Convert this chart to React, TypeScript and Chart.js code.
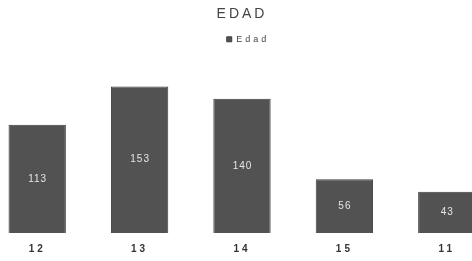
import React, { useEffect, useRef } from "react";
import { Chart, registerables } from "chart.js";

Chart.register(...registerables);

const categories = ["12", "13", "14", "15", "11"];
const edadValues = [113, 153, 140, 56, 43];
const titleText = "EDAD";
const seriesLabel = "Edad";

const spacing = {
  id: "spacing",
  beforeInit(chart: any) {
    chart.ctx.letterSpacing = "3px";
  },
  beforeDraw(chart: any) {
    chart.ctx.letterSpacing = "3px";
  },
};

const barLabels = {
  id: "barLabels",
  afterDatasetsDraw(chart: any) {
    const ctx = chart.ctx;
    const meta = chart.getDatasetMeta(0);
    ctx.save();
    ctx.letterSpacing = "1px";
    ctx.fillStyle = "#e6e6e6";
    ctx.font = "10px 'Liberation Sans', Arial, sans-serif";
    ctx.textAlign = "center";
    ctx.textBaseline = "middle";
    meta.data.forEach((bar: any, i: number) => {
      const v = chart.data.datasets[0].data[i];
      const y = (bar.y + bar.base) / 2;
      ctx.fillText(String(v), bar.x + 0.5, y);
    });
    ctx.restore();
  },
};

export default function App() {
  const ref = useRef<HTMLCanvasElement>(null);
  useEffect(() => {
    if (!ref.current) return;
    const chart = new Chart(ref.current, {
      type: "bar",
      data: {
        labels: categories,
        datasets: [
          {
            label: seriesLabel,
            data: edadValues,
            backgroundColor: "#525252",
            borderColor: "#3e3e3e",
            borderWidth: 1,
            barPercentage: 0.7,
            categoryPercentage: 0.8,
          },
        ],
      },
      options: {
        animation: false,
        responsive: false,
        maintainAspectRatio: false,
        layout: { padding: { top: 2, bottom: 4, left: 0, right: 0 } },
        plugins: {
          title: {
            display: true,
            text: titleText,
            color: "#444",
            font: { size: 14, weight: "normal", family: "'Liberation Sans', Arial, sans-serif" },
            padding: { top: 4, bottom: 6 },
          },
          legend: {
            display: true,
            labels: {
              boxWidth: 5,
              boxHeight: 5,
              color: "#444",
              font: { size: 9, family: "'Liberation Sans', Arial, sans-serif" },
              padding: 6,
            },
          },
          tooltip: { enabled: false },
        },
        scales: {
          x: {
            grid: { display: false },
            border: { display: false },
            ticks: {
              color: "#333",
              font: { size: 10, weight: "bold", family: "'Liberation Sans', Arial, sans-serif" },
              padding: 2,
            },
          },
          y: {
            display: false,
            min: 0,
            max: 187,
          },
        },
      },
      plugins: [spacing, barLabels],
    });
    return () => chart.destroy();
  }, []);
  return (
    <div
      style={{
        position: "fixed",
        left: 0,
        top: 0,
        width: 472,
        height: 261,
        overflow: "hidden",
        background: "#fff",
      }}
    >
      <canvas
        ref={ref}
        width={512}
        height={261}
        style={{ position: "absolute", left: -14, top: 0, width: 512, height: 261 }}
      />
    </div>
  );
}
